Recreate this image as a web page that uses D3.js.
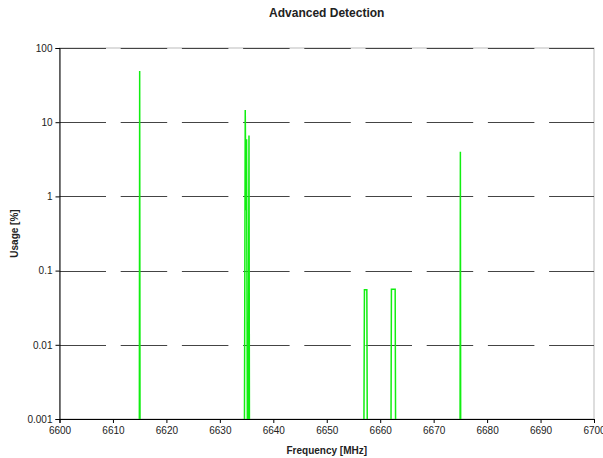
<!DOCTYPE html>
<html>
<head>
<meta charset="utf-8">
<script src="https://cdn.jsdelivr.net/npm/d3@7"></script>
<style>
  body { margin: 0; background: #fff; }
  text { font-family: "Liberation Sans", Arial, sans-serif; fill: #222; }
</style>
</head>
<body>
<div id="chart"></div>
<script>
// --- data (0 = no usage, drawn below the axis) ---
const freqs = [
    6614.9, 6615.0, 6615.1,
    6634.5, 6634.75, 6634.9, 6635.0, 6635.25, 6635.45, 6635.6,
    6656.8, 6657.05, 6657.5, 6657.7,
    6661.9, 6662.1, 6662.8, 6663.0,
    6674.9, 6675.0, 6675.1
];
const usage = [
    0, 49, 0,
    0, 14.6, 0.65, 5.9, 0, 6.6, 0,
    0, 0.055, 0.055, 0,
    0, 0.056, 0.056, 0,
    0, 4.0, 0
];
const xTicks = [6600, 6610, 6620, 6630, 6640, 6650, 6660, 6670, 6680, 6690, 6700];
const yTicks = [0.001, 0.01, 0.1, 1, 10, 100];
const yTickLabels = ["0.001", "0.01", "0.1", "1", "10", "100"];

const width = 603, height = 458;
const margin = { top: 48, right: 9, bottom: 39, left: 59.5 };
const innerW = width - margin.left - margin.right;
const innerH = height - margin.top - margin.bottom;

const svg = d3.select("#chart").append("svg")
    .attr("width", width)
    .attr("height", height);

const g = svg.append("g")
    .attr("transform", `translate(${margin.left},${margin.top})`);

const x = d3.scaleLinear().domain([6600, 6700]).range([0, innerW]);
const y = d3.scaleLog().domain([0.001, 100]).range([innerH, 0]);

// light plot border (top/right)
g.append("rect")
    .attr("width", innerW)
    .attr("height", innerH)
    .attr("fill", "none")
    .attr("stroke", "#bbb")
    .attr("stroke-width", 1);

// dashed gridlines
g.append("g")
    .selectAll("line")
    .data(yTicks.slice(1))
    .join("line")
    .attr("x1", 0)
    .attr("x2", innerW)
    .attr("y1", d => Math.round(y(d)) + 0.5)
    .attr("y2", d => Math.round(y(d)) + 0.5)
    .attr("stroke", "#444")
    .attr("stroke-width", 1)
    .attr("stroke-dasharray", "46.5,14.7");

// series line, clipped to plot area
g.append("clipPath").attr("id", "plot-clip")
    .append("rect").attr("width", innerW).attr("height", innerH);

const points = freqs.map((f, i) => ({ f, v: usage[i] }));
const line = d3.line()
    .x(d => x(d.f))
    .y(d => d.v > 0 ? y(d.v) : y(1e-6));

g.append("path")
    .datum(points)
    .attr("clip-path", "url(#plot-clip)")
    .attr("fill", "none")
    .attr("stroke", "#11ee11")
    .attr("stroke-width", 1.5)
    .attr("stroke-linejoin", "miter")
    .attr("d", line);

// axes
const xAxis = g.append("g")
    .attr("transform", `translate(0,${innerH})`)
    .call(d3.axisBottom(x).tickValues(xTicks).tickFormat(d3.format("d")).tickSize(4).tickPadding(4));

const yAxis = g.append("g")
    .call(d3.axisLeft(y).tickValues(yTicks).tickFormat((d, i) => yTickLabels[i]).tickSize(4).tickPadding(3));

[xAxis, yAxis].forEach(a => {
    a.select(".domain").attr("stroke", "#000");
    a.selectAll(".tick line").attr("stroke", "#000");
    a.selectAll(".tick text")
        .attr("font-size", 10)
        .attr("font-family", "Liberation Sans, Arial, sans-serif")
        .attr("fill", "#222");
});

// titles
svg.append("text")
    .attr("x", margin.left + innerW / 2)
    .attr("y", 17)
    .attr("text-anchor", "middle")
    .attr("font-size", 12)
    .attr("font-weight", "bold")
    .text("Advanced Detection");

svg.append("text")
    .attr("x", margin.left + innerW / 2)
    .attr("y", 454)
    .attr("text-anchor", "middle")
    .attr("font-size", 10)
    .attr("font-weight", "bold")
    .text("Frequency [MHz]");

svg.append("text")
    .attr("transform", `translate(18,${margin.top + innerH / 2}) rotate(-90)`)
    .attr("text-anchor", "middle")
    .attr("font-size", 10)
    .attr("font-weight", "bold")
    .text("Usage [%]");
</script>
</body>
</html>
